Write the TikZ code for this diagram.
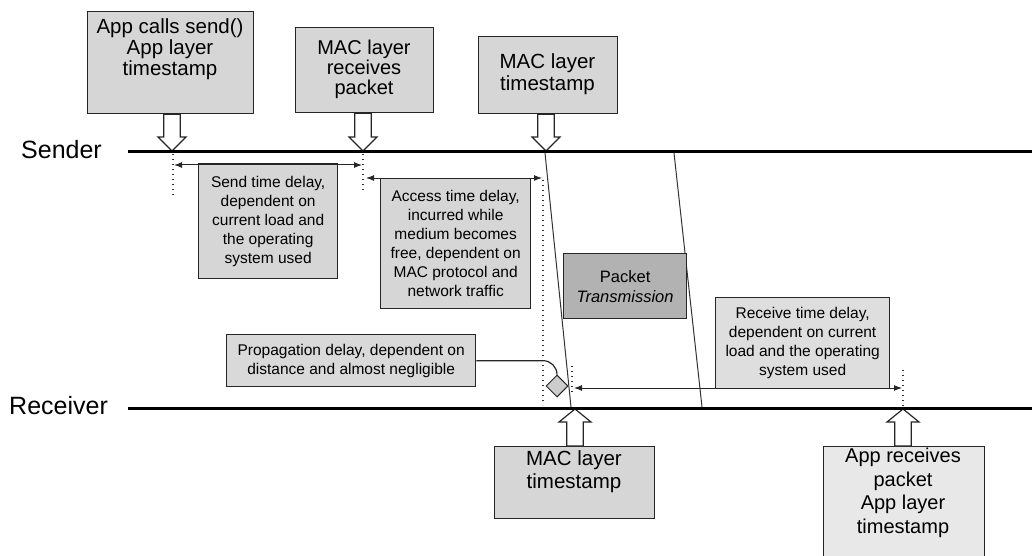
\documentclass[tikz,border=0pt]{standalone}
\usepackage{fontspec}
\setmainfont{Liberation Sans}
\usetikzlibrary{arrows.meta,calc,shapes.geometric}
\lineskiplimit=-100pt
\begin{document}
\begin{tikzpicture}[x=1pt,y=-1pt,
  box/.style={draw=black!85, line width=1.3pt, fill=black!16, inner sep=0pt, anchor=north west},
  bigtext/.style={inner sep=0pt, anchor=north, align=center},
  note/.style={box, align=center, font=\fontsize{15.5}{19}\selectfont},
  timeline/.style={line width=3pt, black},
  dim/.style={line width=1pt, black!85, {Latex[length=8pt,width=6pt]}-{Latex[length=8pt,width=6pt]}},
  guide/.style={line width=1.3pt, black!80, dash pattern=on 1.2pt off 3.8pt},
  slant/.style={line width=1pt, black!80},
  blockarr/.style={draw=black!85, line width=1.2pt, fill=white},
  conn/.style={line width=1.2pt, black!85},
]
\useasboundingbox (0,0) rectangle (1032,556);
\clip (0,0) rectangle (1032,556);

% hollow block arrows: box -> point on a time line
\newcommand\arrowdown[2]{%
  \filldraw[blockarr] let \p1=(#1.south), \p2=(#2) in
    (\x2-8.3pt,\y1) -- (\x2-8.3pt,\y2+14pt) -- (\x2-14pt,\y2+14pt) -- (\x2,\y2)
    -- (\x2+14pt,\y2+14pt) -- (\x2+8.3pt,\y2+14pt) -- (\x2+8.3pt,\y1) -- cycle;}
\newcommand\arrowup[2]{%
  \filldraw[blockarr] let \p1=(#1.north), \p2=(#2) in
    (\x2-8.3pt,\y1) -- (\x2-8.3pt,\y2-13pt) -- (\x2-16pt,\y2-13pt) -- (\x2,\y2)
    -- (\x2+16pt,\y2-13pt) -- (\x2+8.3pt,\y2-13pt) -- (\x2+8.3pt,\y1) -- cycle;}

% time lines
\coordinate (sL) at (128,152);
\coordinate (sR) at (1032,152);
\coordinate (rL) at (128,408);
\coordinate (rR) at (1032,408);
\node[anchor=base west, inner sep=0pt, font=\fontsize{25}{25}\selectfont] (sender) at (21,159) {Sender};
\node[anchor=base west, inner sep=0pt, font=\fontsize{25}{25}\selectfont] (receiver) at (9,414) {Receiver};

% event points on the lines
\coordinate (s1) at (172,151);
\coordinate (s2) at (363,151);
\coordinate (s3) at (546,151);
\coordinate (r1) at (575,409);
\coordinate (r2) at (903,409);

% packet transmission edges
\coordinate (p1a) at (545,153);
\coordinate (p1b) at (571,407);
\coordinate (p2a) at (674,153);
\coordinate (p2b) at (702,407);
\draw[slant] (p1a) -- (p1b);
\draw[slant] (p2a) -- (p2b);

% dotted guides
\draw[guide] (173,154) -- (173,197);
\draw[guide] (363,154) -- (363,192);
\draw[guide] (543,180) -- (543,405);
\draw[guide] (572,366) -- (572,392);
\draw[guide] (903,370) -- (903,406);

% delay notes
\node[note, minimum width=139, minimum height=115] (sendbox) at (198,163)
  {Send time delay,\\dependent on\\current load and\\the operating\\system used};
\node[note, minimum width=150, minimum height=130] (accessbox) at (380,178)
  {Access time delay,\\incurred while\\medium becomes\\free, dependent on\\MAC protocol and\\network traffic};
\node[note, minimum width=249, minimum height=52, fill=black!15] (propbox) at (226,334)
  {Propagation delay, dependent on\\distance and almost negligible};
\node[note, minimum width=174, minimum height=91, fill=black!13] (recvbox) at (715,297)
  {Receive time delay,\\dependent on current\\load and the operating\\system used};
\node[box, minimum width=123, minimum height=65, fill=black!30, align=center,
      font=\fontsize{16.5}{20}\selectfont] (packet) at (563,253)
  {Packet\\\textit{Transmission}};

% delay spans
\coordinate (d1a) at (174,165);
\coordinate (d1b) at (362,165);
\coordinate (d2a) at (366,178);
\coordinate (d2b) at (542,178);
\coordinate (d3a) at (574,388);
\coordinate (d3b) at (902,388);
\draw[dim] (d1a) -- (d1b);
\draw[dim] (d2a) -- (d2b);
\draw[dim] (d3a) -- (d3b);

% propagation marker
\node[diamond, draw=black!85, fill=black!20, line width=1pt, minimum width=22,
      minimum height=22, inner sep=0pt] (dia) at (557,386) {};
\draw[conn, rounded corners=14pt] (propbox.east) -| (dia.north);

% sender-side events
\node[box, minimum width=166, minimum height=102] (b1) at (87,11) {};
\node[bigtext, font=\fontsize{20.5}{21}\selectfont] (b1t) at (170,18)
  {App calls send()\\App layer\\timestamp};
\node[box, minimum width=138, minimum height=85] (b2) at (295,27) {};
\node[bigtext, font=\fontsize{20}{20}\selectfont] (b2t) at (364,40)
  {MAC layer\\receives\\packet};
\node[box, minimum width=139, minimum height=77] (b3) at (478,36) {};
\node[bigtext, font=\fontsize{20.5}{22}\selectfont] (b3t) at (547.5,53)
  {MAC layer\\timestamp};

% receiver-side events
\node[box, minimum width=160, minimum height=72] (b4) at (494,446) {};
\node[bigtext, font=\fontsize{20.5}{23}\selectfont] (b4t) at (574,450)
  {MAC layer\\timestamp};
\node[box, minimum width=161, minimum height=125, fill=black!9] (b5) at (823,446) {};
\node[bigtext, font=\fontsize{20}{23.5}\selectfont] (b5t) at (903,448)
  {App receives\\packet\\App layer\\timestamp};

\arrowdown{b1}{s1}
\arrowdown{b2}{s2}
\arrowdown{b3}{s3}
\arrowup{b4}{r1}
\arrowup{b5}{r2}

\draw[timeline] (sL) -- (sR);
\draw[timeline] (rL) -- (rR);
\end{tikzpicture}
\end{document}
